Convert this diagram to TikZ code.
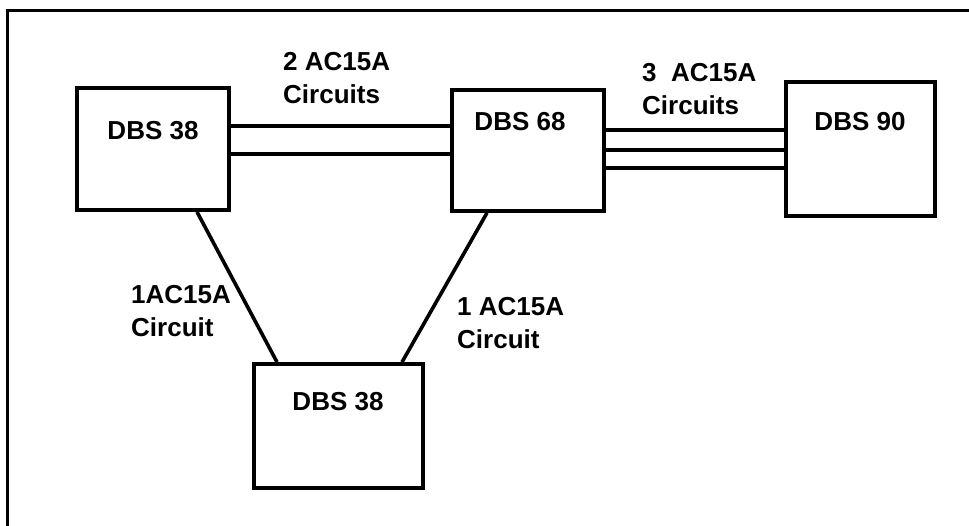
\documentclass[tikz,border=0pt]{standalone}
\usepackage{fontspec}
\setmainfont{Liberation Sans}
\usetikzlibrary{calc}
\tikzset{
  dbsbox/.style={draw, line width=3.8pt, rectangle, inner sep=0pt},
  boxtext/.style={font=\bfseries\fontsize{26}{33}\selectfont, inner sep=0pt},
  linklbl/.style={font=\bfseries\fontsize{26}{33}\selectfont, inner sep=0pt, align=left, anchor=west},
  link/.style={line width=3.6pt},
}
\begin{document}
\begin{tikzpicture}[x=1pt, y=-1pt]
\useasboundingbox (0,0) rectangle (969,525);
\fill[white] (0,0) rectangle (969,525);
% outer frame
\coordinate (fbl) at (7,530);
\coordinate (ftl) at (7,10);
\coordinate (ftr) at (975,10);
\draw[line width=3pt] (fbl) -- (ftl) -- (ftr);

% boxes
\node[dbsbox, minimum width=152pt, minimum height=122pt] (A) at (153,149) {};
\node[boxtext] (At) at (153,131) {DBS 38};
\node[dbsbox, minimum width=152pt, minimum height=121pt] (B) at (528,150.5) {};
\node[boxtext] (Bt) at (520,122) {DBS 68};
\node[dbsbox, minimum width=149pt, minimum height=134pt] (C) at (860.5,149) {};
\node[boxtext] (Ct) at (860,122) {DBS 90};
\node[dbsbox, minimum width=169pt, minimum height=124pt] (D) at (338.5,426) {};
\node[boxtext] (Dt) at (338,402) {DBS 38};

% A -- B (2 circuits)
\draw[link] (A.east |- 0,126) -- (B.west |- 0,126);
\draw[link] (A.east |- 0,154) -- (B.west |- 0,154);
% B -- C (3 circuits)
\draw[link] (B.east |- 0,130) -- (C.west |- 0,130);
\draw[link] (B.east |- 0,150) -- (C.west |- 0,150);
\draw[link] ($(B.east |- 0,168)+(-4,0)$) -- (C.west |- 0,168);
% A -- D, B -- D
\draw[link] ($(A.south)+(44,0)$) -- ($(D.north)+(-61.5,0)$);
\draw[link] ($(B.south)+(-41,0)$) -- ($(D.north)+(63.5,0)$);

% labels
\node[linklbl] (lab1) at (283,78.5) {2 AC15A\\Circuits};
\node[linklbl] (lab2) at (642,89.5) {3 \ AC15A\\Circuits};
\node[linklbl] (lab3) at (131,311.5) {1AC15A\\Circuit};
\node[linklbl] (lab4) at (457,323.5) {1 AC15A\\Circuit};
\end{tikzpicture}
\end{document}
